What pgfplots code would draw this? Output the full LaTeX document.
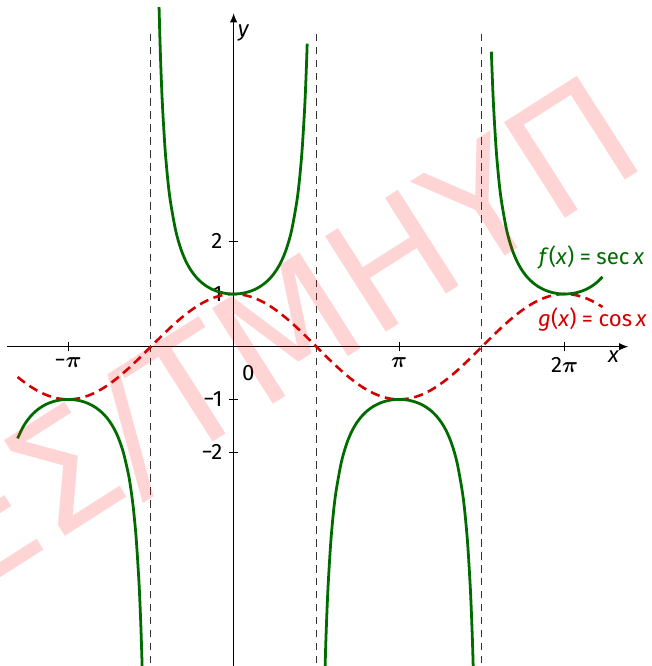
\documentclass[border=0pt]{standalone}
\usepackage{pgfplots}
\pgfplotsset{compat=1.18}
\usetikzlibrary{arrows.meta}
\usepackage{fontspec}
\setmainfont{Fira Sans}
\newfontfamily\wmfont{DejaVu Sans}
\definecolor{secgreen}{RGB}{0,108,0}
\definecolor{cosred}{RGB}{210,0,0}
\newcommand{\bigpi}{{\fontsize{13}{14}\selectfont\boldmath$\pi$}}

\begin{document}
\begin{tikzpicture}
\useasboundingbox (-4.434,-6.06) rectangle (7.925,6.58);
\clip (-4.434,-6.06) rectangle (7.925,6.58);
\begin{axis}[
    x=1cm, y=1cm,
    anchor=origin, at={(0,0)},
    axis lines=middle,
    xmin=-4.3, xmax=7.49,
    ymin=-6.5, ymax=6.33,
    axis line style={line width=0.6pt, -{Latex[length=5pt,width=4pt]}},
    xtick={-3.1416,3.1416,6.2832},
    xticklabels={−\bigpi,\bigpi,2\bigpi},
    ytick={-2,-1,1,2},
    yticklabels={−2,−1,1,2},
    tick style={black, line width=0.6pt},
    major tick length=5pt,
    tick align=center,
    tick label style={font=\fontsize{12}{14}\selectfont},
    clip=false,
]
% asymptotes
\addplot[black!80, line width=0.55pt, dash pattern=on 4pt off 3pt] coordinates {(-1.5708,-6.5) (-1.5708,5.95)};
\addplot[black!80, line width=0.55pt, dash pattern=on 4pt off 3pt] coordinates {(1.5708,-6.5) (1.5708,5.95)};
\addplot[black!80, line width=0.55pt, dash pattern=on 4pt off 3pt] coordinates {(4.7124,-6.5) (4.7124,5.95)};

% g(x) = cos x
\addplot[cosred, line width=1.4pt, dash pattern=on 5pt off 3pt, smooth] coordinates {
(-4.1,-0.57482) (-4.0,-0.65364) (-3.9,-0.72593) (-3.8,-0.79097) (-3.7,-0.84810)
(-3.6,-0.89676) (-3.5,-0.93646) (-3.4,-0.96680) (-3.3,-0.98748) (-3.2,-0.99829)
(-3.1,-0.99914) (-3.0,-0.98999) (-2.9,-0.97096) (-2.8,-0.94222) (-2.7,-0.90407)
(-2.6,-0.85689) (-2.5,-0.80114) (-2.4,-0.73739) (-2.3,-0.66628) (-2.2,-0.58850)
(-2.1,-0.50485) (-2.0,-0.41615) (-1.9,-0.32329) (-1.8,-0.22720) (-1.7,-0.12884)
(-1.6,-0.02920) (-1.5,0.07074) (-1.4,0.16997) (-1.3,0.26750) (-1.2,0.36236)
(-1.1,0.45360) (-1.0,0.54030) (-0.9,0.62161) (-0.8,0.69671) (-0.7,0.76484)
(-0.6,0.82534) (-0.5,0.87758) (-0.4,0.92106) (-0.3,0.95534) (-0.2,0.98007)
(-0.1,0.99500) (0.0,1.00000) (0.1,0.99500) (0.2,0.98007) (0.3,0.95534)
(0.4,0.92106) (0.5,0.87758) (0.6,0.82534) (0.7,0.76484) (0.8,0.69671)
(0.9,0.62161) (1.0,0.54030) (1.1,0.45360) (1.2,0.36236) (1.3,0.26750)
(1.4,0.16997) (1.5,0.07074) (1.6,-0.02920) (1.7,-0.12884) (1.8,-0.22720)
(1.9,-0.32329) (2.0,-0.41615) (2.1,-0.50485) (2.2,-0.58850) (2.3,-0.66628)
(2.4,-0.73739) (2.5,-0.80114) (2.6,-0.85689) (2.7,-0.90407) (2.8,-0.94222)
(2.9,-0.97096) (3.0,-0.98999) (3.1,-0.99914) (3.2,-0.99829) (3.3,-0.98748)
(3.4,-0.96680) (3.5,-0.93646) (3.6,-0.89676) (3.7,-0.84810) (3.8,-0.79097)
(3.9,-0.72593) (4.0,-0.65364) (4.1,-0.57482) (4.2,-0.49026) (4.3,-0.40080)
(4.4,-0.30733) (4.5,-0.21080) (4.6,-0.11215) (4.7,-0.01239) (4.8,0.08750)
(4.9,0.18651) (5.0,0.28366) (5.1,0.37798) (5.2,0.46852) (5.3,0.55437)
(5.4,0.63469) (5.5,0.70867) (5.6,0.77557) (5.7,0.83471) (5.8,0.88552)
(5.9,0.92748) (6.0,0.96017) (6.1,0.98327) (6.2,0.99654) (6.3,0.99983)
(6.4,0.99309) (6.5,0.97659) (6.6,0.95023) (6.7,0.91474) (6.8,0.86950)
(6.9,0.81562) (7.0,0.75390)
};

% f(x) = sec x, branch by branch
\addplot[secgreen, line width=1.5pt, smooth] coordinates {
(-4.1,-1.7397) (-4.0,-1.5299) (-3.9,-1.3775) (-3.8,-1.2643) (-3.7,-1.1791)
(-3.6,-1.1151) (-3.5,-1.0679) (-3.4,-1.0343) (-3.3,-1.0127) (-3.2,-1.0017)
(-3.1,-1.0009) (-3.0,-1.0101) (-2.9,-1.0299) (-2.8,-1.0613) (-2.7,-1.1061)
(-2.6,-1.1670) (-2.5,-1.2482) (-2.4,-1.3561) (-2.3,-1.5009) (-2.2,-1.6992)
(-2.1,-1.9808) (-2.0,-2.4030) (-1.95,-2.7014) (-1.9,-3.0932) (-1.85,-3.6286)
(-1.8,-4.4014) (-1.78,-4.8151) (-1.76,-5.3172) (-1.74,-5.9390) (-1.72,-6.7272)
};
\addplot[secgreen, line width=1.5pt, smooth] coordinates {
(-1.415,6.4446) (-1.4,5.8835) (-1.38,5.2732) (-1.35,4.5660) (-1.3,3.7383)
(-1.25,3.1714) (-1.2,2.7597) (-1.1,2.2046) (-1.0,1.8508) (-0.9,1.6087)
(-0.8,1.4353) (-0.7,1.3075) (-0.6,1.2116) (-0.5,1.1395) (-0.4,1.0857)
(-0.3,1.0468) (-0.2,1.0203) (-0.1,1.0050) (0.0,1.0000) (0.1,1.0050)
(0.2,1.0203) (0.3,1.0468) (0.4,1.0857) (0.5,1.1395) (0.6,1.2116)
(0.7,1.3075) (0.8,1.4353) (0.9,1.6087) (1.0,1.8508) (1.1,2.2046)
(1.2,2.7597) (1.25,3.1714) (1.3,3.7383) (1.35,4.5660) (1.38,5.2732)
(1.396,5.7501)
};
\addplot[secgreen, line width=1.5pt, smooth] coordinates {
(1.7216,-6.6565) (1.7416,-5.8835) (1.7616,-5.2732) (1.7916,-4.5660) (1.8416,-3.7383)
(1.8916,-3.1714) (1.9416,-2.7597) (2.0416,-2.2046) (2.1416,-1.8508) (2.2416,-1.6087)
(2.3416,-1.4353) (2.4416,-1.3075) (2.5416,-1.2116) (2.6416,-1.1395) (2.7416,-1.0857)
(2.8416,-1.0468) (2.9416,-1.0203) (3.0416,-1.0050) (3.1416,-1.0000) (3.2416,-1.0050)
(3.3416,-1.0203) (3.4416,-1.0468) (3.5416,-1.0857) (3.6416,-1.1395) (3.7416,-1.2116)
(3.8416,-1.3075) (3.9416,-1.4353) (4.0416,-1.6087) (4.1416,-1.8508) (4.2416,-2.2046)
(4.3416,-2.7597) (4.3916,-3.1714) (4.4416,-3.7383) (4.4916,-4.5660) (4.5216,-5.2732)
(4.5416,-5.8835) (4.5616,-6.6565)
};
\addplot[secgreen, line width=1.5pt, smooth] coordinates {
(4.8922,5.5980) (4.9032,5.2732) (4.9332,4.5660) (4.9832,3.7383) (5.0332,3.1714)
(5.0832,2.7597) (5.1832,2.2046) (5.2832,1.8508) (5.3832,1.6087) (5.4832,1.4353)
(5.5832,1.3075) (5.6832,1.2116) (5.7832,1.1395) (5.8832,1.0857) (5.9832,1.0468)
(6.0832,1.0203) (6.1832,1.0050) (6.2832,1.0000) (6.3832,1.0050) (6.4832,1.0203)
(6.5832,1.0468) (6.6832,1.0857) (6.7832,1.1395) (6.8832,1.2116) (6.9832,1.3075)
(7.0,1.3264)
};

% labels
\node[secgreen, anchor=east, inner sep=0pt, font=\large] at (axis cs:7.8,1.70)
  {\textit{f}(\textit{x})\hspace{0.25em}=\hspace{0.25em}sec\,\textit{x}};
\node[cosred, anchor=east, inner sep=0pt, font=\large] at (axis cs:7.85,0.51)
  {\textit{g}(\textit{x})\hspace{0.25em}=\hspace{0.25em}cos\,\textit{x}};
\node[font=\large] at (axis cs:7.21,-0.19) {\textit{x}};
\node[font=\large] at (axis cs:0.19,5.95) {\textit{y}};
\node[font=\fontsize{12}{14}\selectfont] at (axis cs:0.28,-0.5) {0};

% watermark
\node[rotate=32.5, text=red, text opacity=0.17, inner sep=0pt,
      font=\wmfont\fontsize{84}{84}\selectfont] at (axis cs:0.95,0.15) {ΕΣ/ΤΜΗΥΠ};
\end{axis}
\end{tikzpicture}
\end{document}
